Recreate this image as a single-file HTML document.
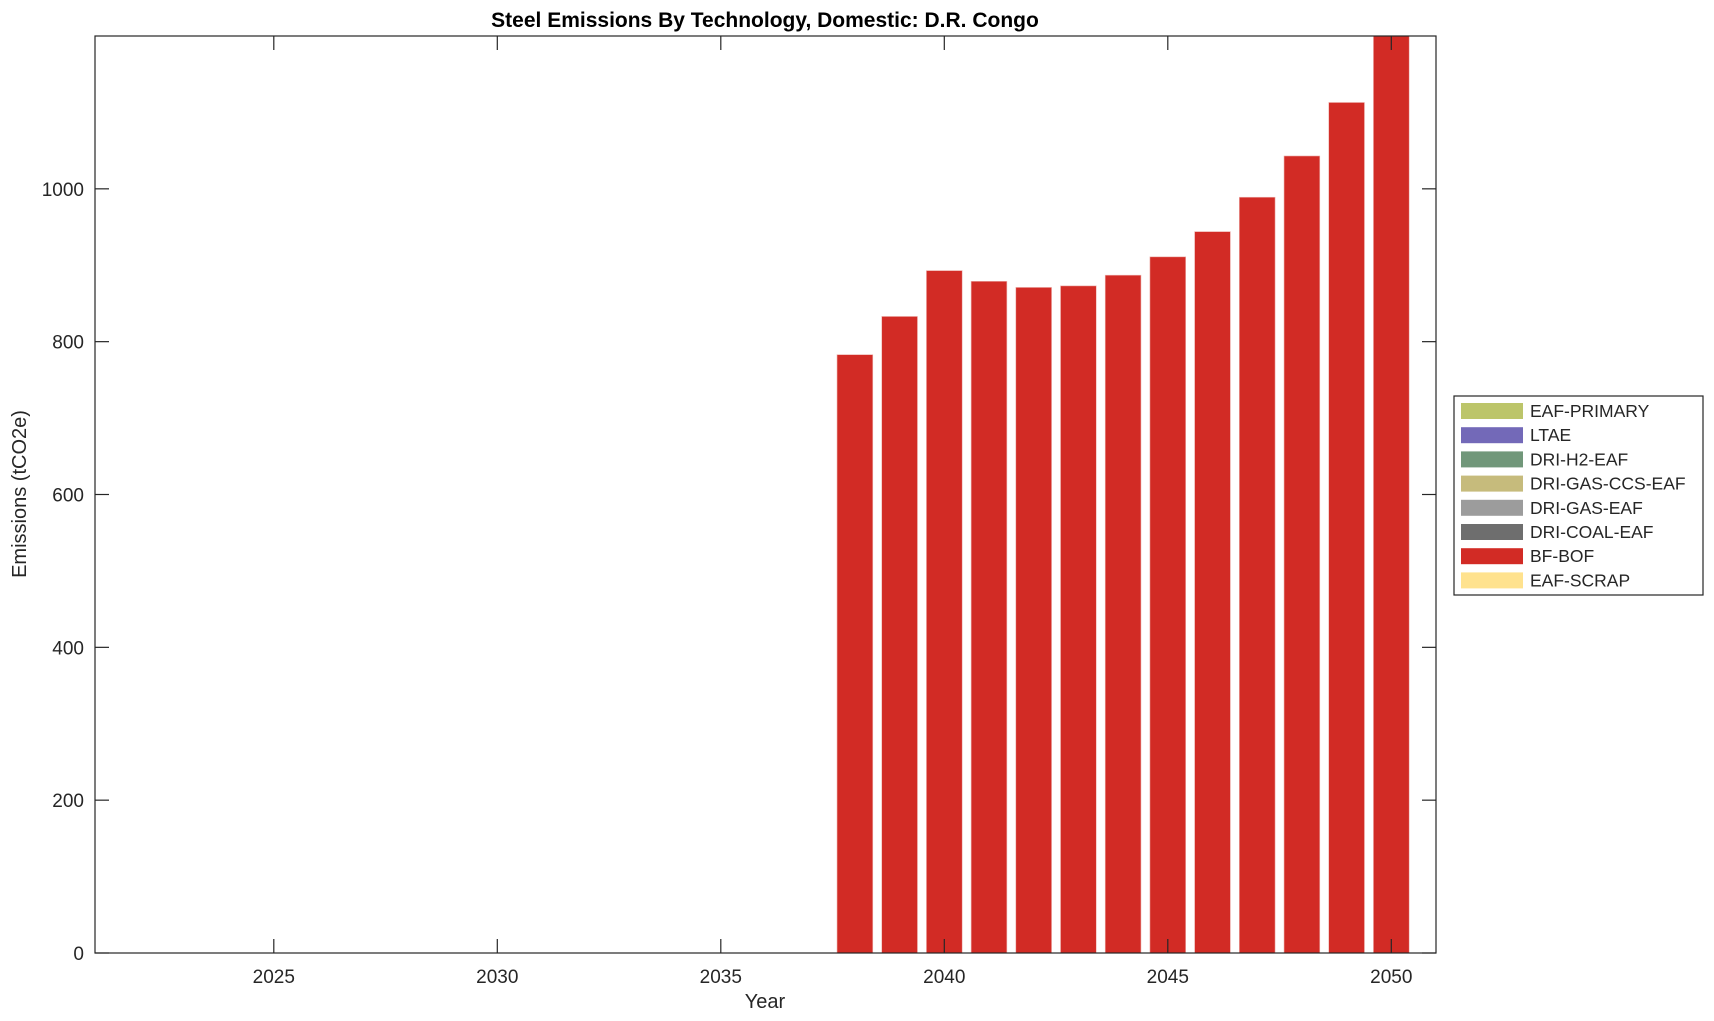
<!DOCTYPE html>
<html><head><meta charset="utf-8"><style>
html,body{margin:0;padding:0;background:#fff;width:1714px;height:1021px;overflow:hidden}
text{font-family:"Liberation Sans",Arial,sans-serif;fill:#262626}
</style></head><body>
<svg id="s" width="1714" height="1021" xmlns="http://www.w3.org/2000/svg">
<text x="765" y="27" font-size="21" font-weight="bold" text-anchor="middle" fill="#000" style="fill:#000">Steel Emissions By Technology, Domestic: D.R. Congo</text>
<g id="bars"></g>
<rect x="95" y="36" width="1341" height="917" fill="none" stroke="#262626" stroke-width="1.2"/>
<g id="ticks" stroke="#262626" stroke-width="1.2"></g>
<g id="labels" font-size="19"></g>
<text x="765" y="1008" font-size="20" text-anchor="middle">Year</text>
<text transform="translate(26,494) rotate(-90)" font-size="20" text-anchor="middle">Emissions (tCO2e)</text>
<g id="legend"></g>
</svg>
<script>
var L=95,R=1436,T=36,B=953,x0=2021,x1=2051,ymax=1200;
function X(v){return L+(v-x0)/(x1-x0)*(R-L)}
function Y(v){return B-v/ymax*(B-T)}
var ns="http://www.w3.org/2000/svg";
function el(p,t,a,txt){var e=document.createElementNS(ns,t);for(var k in a)e.setAttribute(k,a[k]);if(txt)e.textContent=txt;document.getElementById(p).appendChild(e);return e}
var d={2038:783,2039:833,2040:893,2041:879,2042:871,2043:873,2044:887,2045:911,2046:944,2047:989,2048:1043,2049:1113,2050:1250};
var bw=0.8*(R-L)/(x1-x0);
for(var y in d){var v=Math.min(d[y],ymax);el("bars","rect",{x:X(+y)-bw/2,y:Y(v),width:bw,height:B-Y(v),fill:"#d22b25",stroke:"#eeb4b0","stroke-width":0.6});}
[2025,2030,2035,2040,2045,2050].forEach(function(v){var x=X(v);
el("ticks","line",{x1:x,x2:x,y1:B,y2:B-14});el("ticks","line",{x1:x,x2:x,y1:T,y2:T+14});
el("labels","text",{x:x,y:983,"text-anchor":"middle"},String(v));});
[0,200,400,600,800,1000].forEach(function(v){var y=Y(v);
el("ticks","line",{x1:L,x2:L+14,y1:y,y2:y});el("ticks","line",{x1:R,x2:R-14,y1:y,y2:y});
el("labels","text",{x:84,y:y+7,"text-anchor":"end"},String(v));});
el("legend","rect",{x:1454,y:396,width:249,height:199,fill:"#fff",stroke:"#262626","stroke-width":1.2});
var items=[["EAF-PRIMARY","#bcc56a"],["LTAE","#7369b8"],["DRI-H2-EAF","#71977a"],["DRI-GAS-CCS-EAF","#c6bb7c"],["DRI-GAS-EAF","#9c9c9c"],["DRI-COAL-EAF","#6e6e6e"],["BF-BOF","#d22b25"],["EAF-SCRAP","#ffe28e"]];
items.forEach(function(it,i){var cy=411+i*24.2;
el("legend","rect",{x:1461,y:cy-8,width:62,height:16,fill:it[1]});
el("legend","text",{x:1530,y:cy+6,"font-size":"17.5"},it[0]);});
</script>
</body></html>
